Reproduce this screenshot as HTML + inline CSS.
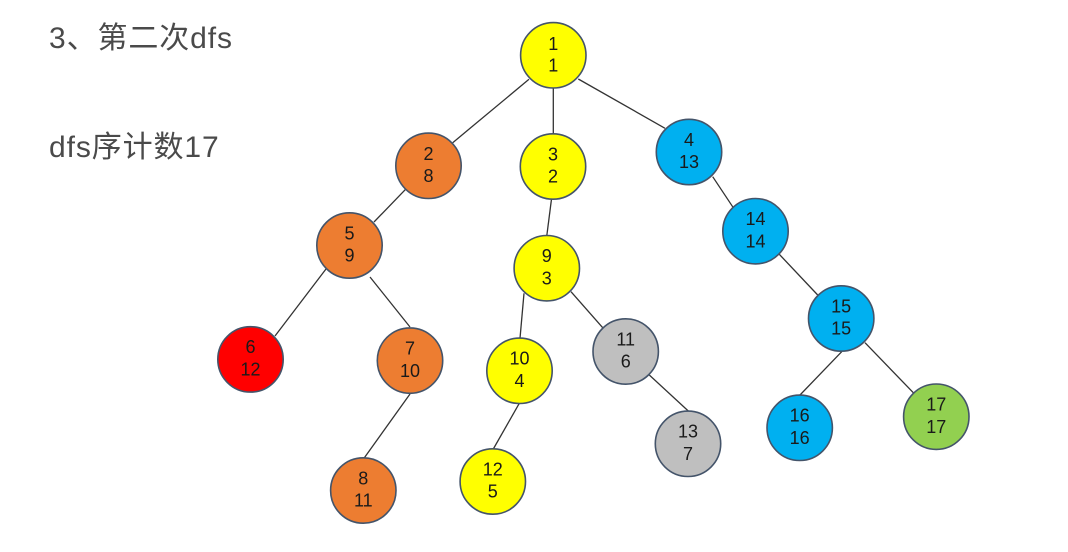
<!DOCTYPE html>
<html>
<head>
<meta charset="utf-8">
<style>
  html,body{margin:0;padding:0;background:#fff;}
  svg{display:block;}
  .t{font-family:"Liberation Sans","Noto Sans CJK SC",sans-serif;font-size:30px;fill:#4a4a4a;letter-spacing:0.9px;}
  .n{font-family:"Liberation Sans",sans-serif;font-size:18px;fill:#1a1a1a;text-anchor:middle;}
  circle{stroke:#44546A;stroke-width:1.6;}
  line{stroke:#333;stroke-width:1.3;}
</style>
</head>
<body>
<svg width="1068" height="552" viewBox="0 0 1068 552" xmlns="http://www.w3.org/2000/svg">
  <text class="t" x="49" y="48">3、第二次dfs</text>
  <text class="t" x="49" y="157">dfs序计数17</text>

  <!-- connectors -->
  <line x1="529" y1="79.3" x2="452.7" y2="142.7"/>
  <line x1="553.3" y1="88.3" x2="553.3" y2="134"/>
  <line x1="578.3" y1="79" x2="665" y2="128.3"/>
  <line x1="405.7" y1="189.2" x2="374" y2="222"/>
  <line x1="551.5" y1="199" x2="546.8" y2="235.7"/>
  <line x1="712.7" y1="176.7" x2="733.3" y2="207.7"/>
  <line x1="326" y1="269" x2="275" y2="336"/>
  <line x1="370" y1="277" x2="410" y2="327"/>
  <line x1="524" y1="293.3" x2="520" y2="338.3"/>
  <line x1="571" y1="291.7" x2="602.7" y2="327.7"/>
  <line x1="779.3" y1="254.3" x2="817.7" y2="295"/>
  <line x1="410" y1="394" x2="364" y2="458.3"/>
  <line x1="519.3" y1="403.3" x2="493.3" y2="449"/>
  <line x1="649.3" y1="375" x2="688.3" y2="411"/>
  <line x1="841.7" y1="351.7" x2="800" y2="395"/>
  <line x1="865" y1="342.7" x2="913.3" y2="392.7"/>

  <!-- nodes -->
  <g>
    <circle cx="553.3" cy="55.3" r="32.7" fill="#FFFF00"/>
    <text class="n" x="553.3" y="50">1</text><text class="n" x="553.3" y="71.7">1</text>

    <circle cx="428.5" cy="165.8" r="32.7" fill="#ED7D31"/>
    <text class="n" x="428.5" y="160">2</text><text class="n" x="428.5" y="182">8</text>

    <circle cx="553" cy="166.5" r="32.7" fill="#FFFF00"/>
    <text class="n" x="553" y="160.5">3</text><text class="n" x="553" y="182.5">2</text>

    <circle cx="689" cy="152" r="32.7" fill="#00B0F0"/>
    <text class="n" x="689" y="146">4</text><text class="n" x="689" y="168">13</text>

    <circle cx="349.5" cy="245.5" r="32.7" fill="#ED7D31"/>
    <text class="n" x="349.5" y="239.3">5</text><text class="n" x="349.5" y="261.7">9</text>

    <circle cx="546.8" cy="268.2" r="32.7" fill="#FFFF00"/>
    <text class="n" x="546.8" y="262">9</text><text class="n" x="546.8" y="284.3">3</text>

    <circle cx="755.5" cy="231.2" r="32.7" fill="#00B0F0"/>
    <text class="n" x="755.5" y="225">14</text><text class="n" x="755.5" y="247.4">14</text>

    <circle cx="250.5" cy="359.4" r="32.7" fill="#FF0000"/>
    <text class="n" x="250.5" y="353.2">6</text><text class="n" x="250.5" y="375.6">12</text>

    <circle cx="410" cy="360.6" r="32.7" fill="#ED7D31"/>
    <text class="n" x="410" y="354.4">7</text><text class="n" x="410" y="376.8">10</text>

    <circle cx="519.5" cy="370.8" r="32.7" fill="#FFFF00"/>
    <text class="n" x="519.5" y="364.6">10</text><text class="n" x="519.5" y="387">4</text>

    <circle cx="625.7" cy="351.5" r="32.7" fill="#BFBFBF"/>
    <text class="n" x="625.7" y="345.3">11</text><text class="n" x="625.7" y="367.7">6</text>

    <circle cx="841.2" cy="318.5" r="32.7" fill="#00B0F0"/>
    <text class="n" x="841.2" y="312.3">15</text><text class="n" x="841.2" y="334.7">15</text>

    <circle cx="363.3" cy="490.5" r="32.7" fill="#ED7D31"/>
    <text class="n" x="363.3" y="484.3">8</text><text class="n" x="363.3" y="506.7">11</text>

    <circle cx="492.8" cy="481.5" r="32.7" fill="#FFFF00"/>
    <text class="n" x="492.8" y="475.3">12</text><text class="n" x="492.8" y="497.7">5</text>

    <circle cx="688" cy="443.8" r="32.7" fill="#BFBFBF"/>
    <text class="n" x="688" y="437.6">13</text><text class="n" x="688" y="460">7</text>

    <circle cx="799.7" cy="427.8" r="32.7" fill="#00B0F0"/>
    <text class="n" x="799.7" y="421.6">16</text><text class="n" x="799.7" y="444">16</text>

    <circle cx="936.3" cy="416.7" r="32.7" fill="#92D050"/>
    <text class="n" x="936.3" y="410.5">17</text><text class="n" x="936.3" y="432.9">17</text>
  </g>
</svg>
</body>
</html>
